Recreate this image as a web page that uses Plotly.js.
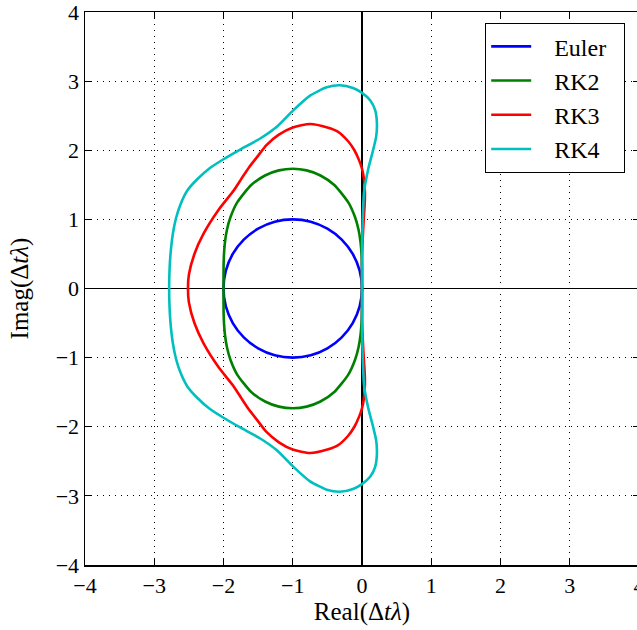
<!DOCTYPE html>
<html>
<head>
<meta charset="utf-8">
<script src="https://cdn.plot.ly/plotly-3.0.1.min.js"></script>
<style>
html,body{margin:0;padding:0;overflow:hidden;background:#fff;}
#chart{width:645px;height:630px;}
</style>
</head>
<body>
<div id="chart"></div>
<script>
// Stability-region boundaries (Real, Imag)
const seriesNames = ["Euler", "RK2", "RK3", "RK4"];

const eulerRe = [0, -0.034, -0.134, -0.293, -0.5, -0.741, -1, -1.259, -1.5, -1.707, -1.866, -1.966, -2,
                 -1.966, -1.866, -1.707, -1.5, -1.259, -1, -0.741, -0.5, -0.293, -0.134, -0.034, 0];
const eulerIm = [0, 0.259, 0.5, 0.707, 0.866, 0.966, 1, 0.966, 0.866, 0.707, 0.5, 0.259, 0,
                 -0.259, -0.5, -0.707, -0.866, -0.966, -1, -0.966, -0.866, -0.707, -0.5, -0.259, 0];

const rk2Re = [0, -0.001, -0.005, -0.02, -0.05, -0.1, -0.2, -0.4, -0.6, -0.8, -1, -1.2, -1.4, -1.6, -1.8, -1.9, -1.95, -1.98, -1.995, -1.999, -2,
               -1.999, -1.995, -1.98, -1.95, -1.9, -1.8, -1.6, -1.4, -1.2, -1, -0.8, -0.6, -0.4, -0.2, -0.1, -0.05, -0.02, -0.005, -0.001, 0];
const rk2Im = [0, 0.302, 0.458, 0.662, 0.85, 1.03, 1.249, 1.497, 1.635, 1.709, 1.732, 1.709, 1.635, 1.497, 1.249, 1.03, 0.85, 0.662, 0.458, 0.302, 0,
               -0.302, -0.458, -0.662, -0.85, -1.03, -1.249, -1.497, -1.635, -1.709, -1.732, -1.709, -1.635, -1.497, -1.249, -1.03, -0.85, -0.662, -0.458, -0.302, 0];

const rk3Re = [0, 0.002, 0.025, 0.038, 0.042, 0.026, 0, -0.04, -0.11, -0.2, -0.35, -0.5, -0.75, -1.0, -1.2, -1.38, -1.505, -1.63, -1.74, -1.85, -2.07, -2.29, -2.42, -2.5, -2.513,
               -2.5, -2.42, -2.29, -2.07, -1.85, -1.74, -1.63, -1.505, -1.38, -1.2, -1.0, -0.75, -0.5, -0.35, -0.2, -0.11, -0.04, 0, 0.026, 0.042, 0.038, 0.025, 0.002, 0];
const rk3Im = [0, 0.5, 1.0, 1.2, 1.4, 1.6, 1.732, 1.85, 2.0, 2.13, 2.27, 2.33, 2.38, 2.33, 2.225, 2.075, 1.915, 1.755, 1.59, 1.42, 1.14, 0.79, 0.5, 0.2, 0,
               -0.2, -0.5, -0.79, -1.14, -1.42, -1.59, -1.755, -1.915, -2.075, -2.225, -2.33, -2.38, -2.33, -2.27, -2.13, -2.0, -1.85, -1.732, -1.6, -1.4, -1.2, -1.0, -0.5, 0];

const rk4Re = [0, 0.002, 0.01, 0.03, 0.09, 0.16, 0.205, 0.215, 0.19, 0.12, 0, -0.13, -0.32, -0.51, -0.75, -0.99, -1.23, -1.47, -1.76, -2.0, -2.2, -2.38, -2.52, -2.62, -2.685, -2.73, -2.765, -2.78, -2.785,
               -2.78, -2.765, -2.73, -2.685, -2.62, -2.52, -2.38, -2.2, -2.0, -1.76, -1.47, -1.23, -0.99, -0.75, -0.51, -0.32, -0.13, 0, 0.12, 0.19, 0.215, 0.205, 0.16, 0.09, 0.03, 0.01, 0.002, 0];
const rk4Im = [0, 0.6, 1.0, 1.4, 1.73, 2.0, 2.2, 2.4, 2.58, 2.72, 2.83, 2.9, 2.94, 2.91, 2.79, 2.58, 2.34, 2.17, 2.01, 1.87, 1.74, 1.58, 1.42, 1.22, 1.02, 0.8, 0.5, 0.25, 0,
               -0.25, -0.5, -0.8, -1.02, -1.22, -1.42, -1.58, -1.74, -1.87, -2.01, -2.17, -2.34, -2.58, -2.79, -2.91, -2.94, -2.9, -2.83, -2.72, -2.58, -2.4, -2.2, -2.0, -1.73, -1.4, -1.0, -0.6, 0];

const tickVals = [-4, -3, -2, -1, 0, 1, 2, 3, 4];
const tickText = ["−4", "−3", "−2", "−1", "0", "1", "2", "3", "4"];

const colors = ["#0000ff", "#008000", "#ff0000", "#00bfbf"];
const xs = [eulerRe, rk2Re, rk3Re, rk4Re];
const ys = [eulerIm, rk2Im, rk3Im, rk4Im];

const FONT = "Liberation Serif";
const PAD = "\u00a0\u00a0\u00a0";
const TAIL = "\u00a0\u00a0";

const traces = seriesNames.map((n, i) => ({
  type: "scatter", mode: "lines", name: PAD + n + TAIL,
  x: xs[i], y: ys[i],
  line: {color: colors[i], width: 2.6, shape: "spline", smoothing: 0.6}
}));

const axisCommon = {
  range: [-4, 4], tickvals: tickVals, ticktext: tickText,
  ticks: "inside", ticklen: 6, tickwidth: 1, tickcolor: "#000",
  showline: true, linecolor: "#000", linewidth: 1.5, mirror: "ticks",
  showgrid: true, gridcolor: "#000", gridwidth: 1, griddash: "1px,5px",
  zeroline: true, zerolinecolor: "#000", zerolinewidth: 1.3,
  tickfont: {family: FONT, size: 22, color: "#000"},
  ticklabeloverflow: "allow",
  fixedrange: true
};

const layout = {
  width: 645, height: 630,
  margin: {l: 85, r: 6, t: 12, b: 65},
  paper_bgcolor: "#fff", plot_bgcolor: "#fff",
  font: {family: FONT, size: 22, color: "#000"},
  showlegend: true,
  legend: {
    x: 0.722, y: 0.98, xanchor: "left", yanchor: "top",
    bgcolor: "#fff", bordercolor: "#000", borderwidth: 1.2,
    font: {family: FONT, size: 24, color: "#000"},
    itemwidth: 40
  },
  xaxis: Object.assign({}, axisCommon, {
    title: {text: "Real(Δ<i>tλ</i>)", font: {family: FONT, size: 25, color: "#000"}, standoff: 2}
  }),
  yaxis: Object.assign({}, axisCommon, {
    title: {text: "Imag(Δ<i>tλ</i>)", font: {family: FONT, size: 25, color: "#000"}, standoff: 20}
  })
};

Plotly.newPlot("chart", traces, layout, {displayModeBar: false, staticPlot: true});
</script>
</body>
</html>
